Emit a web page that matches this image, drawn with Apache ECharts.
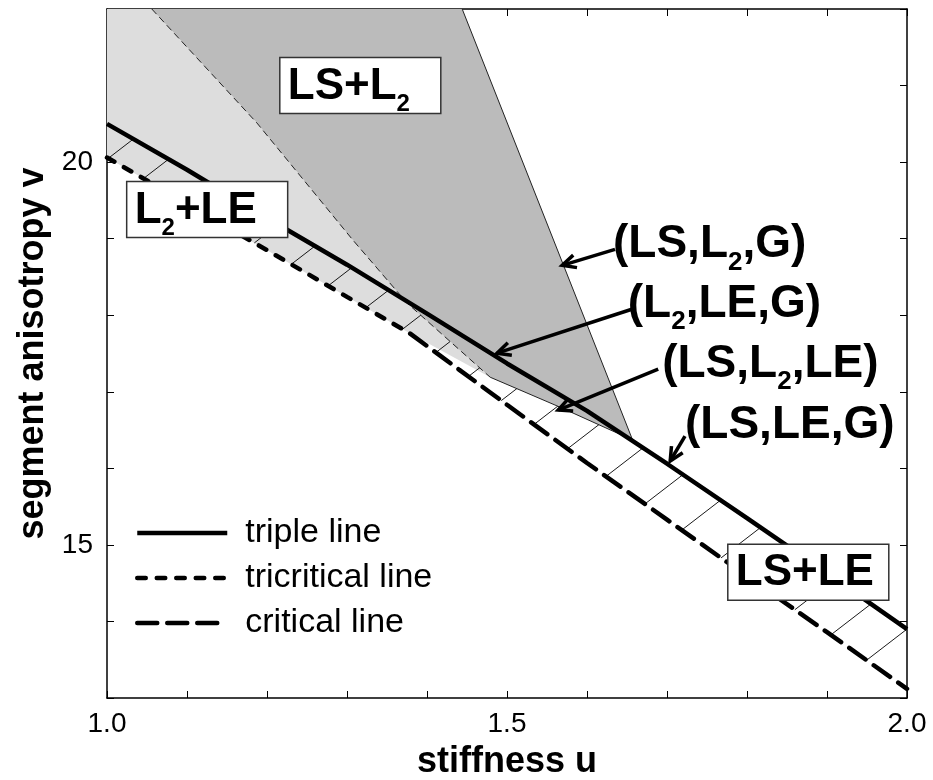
<!DOCTYPE html>
<html><head><meta charset="utf-8">
<script src="https://cdn.jsdelivr.net/npm/echarts@6/dist/echarts.min.js"></script>
<style>html,body{margin:0;padding:0;background:#fff}#c{width:933px;height:780px}</style>
</head><body><div id="c"></div>
<script>
// ---------- data (u = stiffness, v = segment anisotropy) ----------
const tripleLine = [[1.0,20.50],[1.1,19.90],[1.2,19.27],[1.3,18.66],[1.4,18.02],[1.5,17.37],[1.6,16.75],[1.7,16.06],[1.8,15.35],[1.9,14.63],[2.0,13.90]];
const tricriticalLine = [[1.0,20.06],[1.05,19.76],[1.1,19.45],[1.2,18.85],[1.3,18.24],[1.379,17.76]];
const criticalLine = [[1.379,17.76],[1.44,17.29],[1.5,16.83],[1.6,16.07],[1.7,15.33],[1.8,14.59],[1.9,13.86],[2.0,13.12]];
const l2Boundary = [[1.056,22.0],[1.1875,20.51],[1.3075,18.98],[1.375,18.16],[1.479,17.19]];
const lsBoundary = [[1.444,22.0],[1.657,16.37]];
const lsL2LeBoundary = [[1.479,17.19],[1.566,16.80],[1.657,16.37]];
const hatchTopU = [1.033,1.077,1.122,1.168,1.214,1.26,1.306,1.352,1.397,1.441,1.485,1.53,1.575,1.62,1.67,1.72,1.767,1.817,1.864,1.91,1.955,2.0];

const xLabelValues = [1.0, 1.5, 2.0];
const yLabelValues = [15, 20];

const regionLabels = ['{b|LS+L}{s|2}', '{b|L}{s|2}{b|+LE}', '{b|LS+LE}'];
const regionAnchors = [[1.216,21.365],[1.0246,19.748],[1.776,15.009]];

const pointLabels = ['{b|(LS,L}{s|2}{b|,G)}', '{b|(L}{s|2}{b|,LE,G)}', '{b|(LS,L}{s|2}{b|,LE)}', '{b|(LS,LE,G)}'];
const pointLabelAnchors = [[1.6325,18.926],[1.651,18.143],[1.694,17.361],[1.7225,16.565]];
const arrowTails = [[1.635,18.861],[1.656,18.078],[1.689,17.296],[1.7225,16.422]];
const arrowHeads = [[1.569,18.652],[1.4875,17.504],[1.564,16.761],[1.704,16.096]];

// ---------- helpers ----------
const FONT = "'Liberation Sans', Arial, Helvetica, sans-serif";
const lightRegion = [[1.0,22.0]].concat(l2Boundary, tricriticalLine.slice().reverse());
const darkRegion = l2Boundary.concat(lsL2LeBoundary.slice(1), lsBoundary.slice().reverse().slice(1));
const lowerLine = tricriticalLine.concat(criticalLine.slice(1));

function yOnPoly(poly, x){
  for (let i=0;i<poly.length-1;i++){
    const a=poly[i], b=poly[i+1];
    if ((x>=a[0] && x<=b[0]) || (x<=a[0] && x>=b[0])){
      const t=(x-a[0])/((b[0]-a[0])||1); return a[1]+t*(b[1]-a[1]);
    }
  }
  return poly[poly.length-1][1];
}
function rayHit(x0,y0,dx,dy,poly){
  let best=null;
  for (let i=0;i<poly.length-1;i++){
    const a=poly[i], b=poly[i+1];
    const ex=b[0]-a[0], ey=b[1]-a[1];
    const den = dx*ey - dy*ex;
    if (Math.abs(den)<1e-9) continue;
    const t = ((a[0]-x0)*ey - (a[1]-y0)*ex)/den;
    const s = ((a[0]-x0)*dy - (a[1]-y0)*dx)/den;
    if (t>0 && s>=-1e-6 && s<=1+1e-6){ if(!best||t<best.t) best={t}; }
  }
  return best ? [x0+best.t*dx, y0+best.t*dy] : [x0,y0];
}
const richB = (size, sub, drop)=>({
  b:{fontSize:size,fontWeight:'bold',fontFamily:FONT,fill:'#000'},
  s:{fontSize:sub,fontWeight:'bold',fontFamily:FONT,fill:'#000',verticalAlign:'middle',padding:[drop,0,0,0]}
});

function polygonSeries(points, color, z){
  return {type:'custom', coordinateSystem:'cartesian2d', silent:true, z, clip:true, data:[[1,13]],
    renderItem:(p,api)=>({type:'polygon', shape:{points:points.map(q=>api.coord(q))}, style:{fill:color}})};
}
function thinLine(data, dash){
  return {type:'line', data, symbol:'none', silent:true, z:4, clip:true,
    lineStyle:{color:'#222', width:1, type: dash||'solid'}};
}

const chart = echarts.init(document.getElementById('c'));
const axisCommon = {
  type:'value', splitLine:{show:false},
  axisLine:{show:true, onZero:false, lineStyle:{color:'#000', width:1.5}},
  axisTick:{show:true, inside:true, length:7, lineStyle:{color:'#000', width:1}}
};
chart.setOption({
  animation:false,
  backgroundColor:'#fff',
  grid:{left:107, right:26, top:9, bottom:82, outerBoundsMode:'none'},
  xAxis:[
    Object.assign({}, axisCommon, {min:1, max:2, interval:0.1, position:'bottom',
      axisLabel:{fontSize:28, color:'#000', fontFamily:FONT, margin:12,
        formatter:v=> xLabelValues.some(q=>Math.abs(q-v)<1e-6) ? v.toFixed(1) : ''},
      name:'stiffness u', nameLocation:'middle', nameGap:46,
      nameTextStyle:{fontSize:36, fontWeight:'bold', color:'#000', fontFamily:FONT}}),
    Object.assign({}, axisCommon, {min:1, max:2, interval:0.1, position:'top', axisLabel:{show:false}})
  ],
  yAxis:[
    Object.assign({}, axisCommon, {min:13, max:22, interval:1, position:'left',
      axisLabel:{fontSize:28, color:'#000', fontFamily:FONT, margin:14,
        formatter:v=> yLabelValues.indexOf(Math.round(v))>=0 && Math.abs(v-Math.round(v))<1e-6 ? String(Math.round(v)) : ''},
      name:'segment anisotropy v', nameLocation:'middle', nameGap:50, nameRotate:90,
      nameTextStyle:{fontSize:36, fontWeight:'bold', color:'#000', fontFamily:FONT}}),
    Object.assign({}, axisCommon, {min:13, max:22, interval:1, position:'right', axisLabel:{show:false}})
  ],
  legend:{
    orient:'vertical', left:130, top:511, itemWidth:90, itemHeight:20, itemGap:11,
    selectedMode:false,
    textStyle:{fontSize:34, color:'#000', fontFamily:FONT, padding:[0,0,0,13]},
    itemStyle:{opacity:0, color:'rgba(0,0,0,0)', borderWidth:0},
    lineStyle:{width:4.5},
    data:['triple line','tricritical line','critical line']
  },
  series:[
    polygonSeries(lightRegion, '#dddddd', 1),
    {type:'custom', coordinateSystem:'cartesian2d', silent:true, z:2, clip:true, data:[[1,13]],
      renderItem:(p,api)=>{
        const tri = tripleLine.map(q=>api.coord(q));
        const low = lowerLine.map(q=>api.coord(q));
        const children = hatchTopU.map(u=>{
          const x0 = api.coord([u,15])[0];
          const y0 = yOnPoly(tri, x0);
          const e = rayHit(x0,y0,-1,0.77,low);
          return {type:'line', shape:{x1:x0,y1:y0,x2:e[0],y2:e[1]}, style:{stroke:'#000', lineWidth:0.9}};
        });
        return {type:'group', children};
      }},
    polygonSeries(darkRegion, '#bbbbbb', 3),
    thinLine(l2Boundary, [7,4]),
    thinLine(lsBoundary),
    thinLine(lsL2LeBoundary),
    {type:'line', name:'triple line', data:tripleLine, symbol:'none', silent:true, z:10, clip:true,
      lineStyle:{color:'#000', width:4.5}},
    {type:'line', name:'tricritical line', data:tricriticalLine, symbol:'none', silent:true, z:10, clip:true,
      lineStyle:{color:'#000', width:4.5, type:[8.5,11], cap:'round'}},
    {type:'line', name:'critical line', data:criticalLine, symbol:'none', silent:true, z:10, clip:true,
      lineStyle:{color:'#000', width:4.5, type:[20,10], cap:'round'}},
    // region label boxes
    {type:'custom', coordinateSystem:'cartesian2d', silent:true, z:20, data:regionAnchors,
      renderItem:(p,api)=>{
        const pt = api.coord([api.value(0), api.value(1)]);
        return {type:'group', x:pt[0], y:pt[1], children:[
          {type:'rect', shape:{x:0,y:0,width:161,height:56}, style:{fill:'#fff', stroke:'#333', lineWidth:1.5}},
          {type:'text', x:8, y:29, style:{text:regionLabels[p.dataIndex], rich:richB(44,24,36), align:'left', verticalAlign:'middle', fontSize:44, fontWeight:'bold', fontFamily:FONT}}
        ]};
      }},
    // arrows
    {type:'custom', coordinateSystem:'cartesian2d', silent:true, z:21, data:arrowTails,
      renderItem:(p,api)=>{
        const t = api.coord([api.value(0), api.value(1)]);
        const h = api.coord(arrowHeads[p.dataIndex]);
        const ang = Math.atan2(t[1]-h[1], t[0]-h[0]);
        const L=15, a=0.45;
        return {type:'group', children:[
          {type:'line', shape:{x1:t[0],y1:t[1],x2:h[0],y2:h[1]}, style:{stroke:'#000', lineWidth:3.5}},
          {type:'polyline', shape:{points:[[h[0]+L*Math.cos(ang+a), h[1]+L*Math.sin(ang+a)], h, [h[0]+L*Math.cos(ang-a), h[1]+L*Math.sin(ang-a)]]},
            style:{stroke:'#000', lineWidth:3.5, fill:null, lineJoin:'miter'}}
        ]};
      }},
    // point labels
    {type:'custom', coordinateSystem:'cartesian2d', silent:true, z:22, data:pointLabelAnchors,
      renderItem:(p,api)=>{
        const pt = api.coord([api.value(0), api.value(1)]);
        return {type:'text', x:pt[0], y:pt[1], style:{text:pointLabels[p.dataIndex], rich:richB(46,26,36), align:'left', verticalAlign:'middle', fontSize:46, fontWeight:'bold', fontFamily:FONT}};
      }}
  ]
});
</script></body></html>
